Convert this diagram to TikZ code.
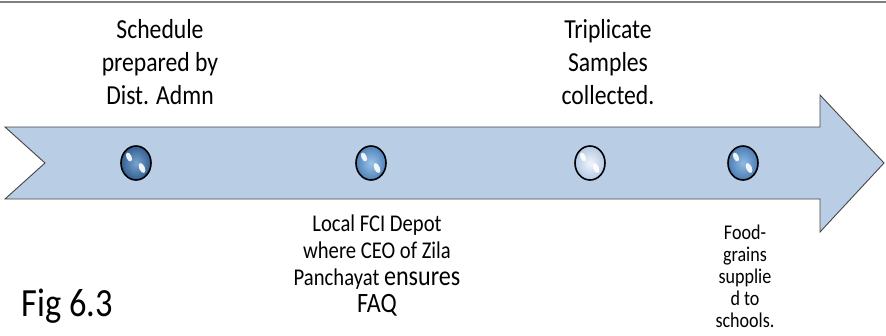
\documentclass[tikz,border=0pt]{standalone}
\usepackage{fontspec}
\setmainfont{Carlito}
% slightly narrowed face for all the labels
\newfontfamily\narrowfont[FakeStretch=0.86]{Carlito}
\usetikzlibrary{positioning,shapes.geometric}

\definecolor{bandfill}{RGB}{185,205,229}
\definecolor{bandline}{RGB}{70,70,70}

\begin{document}
\begin{tikzpicture}[x=1pt,y=-1pt,
    marker/.style={ellipse,draw=black,line width=1.6pt,minimum width=30pt,minimum height=34pt,inner sep=0pt},
    toplabel/.style={align=center,font=\narrowfont\fontsize{27.5}{33}\selectfont},
    lowlabel/.style={align=center,font=\narrowfont\fontsize{24}{27}\selectfont},
    glint/.style={fill=white,opacity=.9}]
        \useasboundingbox (0,0) rectangle (886,335);
        \draw[gray,line width=2pt] (0,2) -- (886,2);

        % the band with its arrow head
        \draw[fill=bandfill,draw=bandline,line width=.9pt]
            (5,127) -- (820,127) -- (820,95) -- (884,163) -- (820,232)
            -- (820,199) -- (5,199) -- (45,163) -- cycle;

        % glass markers along the band
        \foreach \x/\inner/\outer/\n in {136/{rgb,255:red,120;green,165;blue,205}/{rgb,255:red,50;green,95;blue,145}/m1,
                                        371/{rgb,255:red,155;green,195;blue,232}/{rgb,255:red,80;green,130;blue,185}/m2,
                                        590/{rgb,255:red,240;green,245;blue,252}/{rgb,255:red,180;green,200;blue,228}/m3,
                                        743/{rgb,255:red,145;green,185;blue,228}/{rgb,255:red,75;green,125;blue,180}/m4}{
            \node[marker,inner color=\inner,outer color=\outer] (\n) at (\x,163) {};
            \fill[glint] (\x-7,157) ellipse [x radius=2.6pt,y radius=4.8pt,rotate=25];
            \fill[glint] (\x+6,168) ellipse [x radius=2.8pt,y radius=5.4pt,rotate=25];
        }

        \node[toplabel] (sched) at (160,62) {Schedule\\prepared by\\Dist. Admn};
        \node[toplabel] (tripl) at (608,62) {Triplicate\\Samples\\collected.};

        \node[lowlabel,anchor=north] (depot) at (377,211)
            {Local FCI Depot\\where CEO of Zila\\Panchayat {\fontsize{28}{30}\selectfont ensures}\\{\fontsize{28}{30}\selectfont FAQ}};
        \node[align=center,font=\narrowfont\fontsize{21}{22}\selectfont,anchor=north,inner sep=1pt] (grains) at (745,224)
            {Food-\\grains\\supplie\\d to\\schools.};

        \node[anchor=west,font=\narrowfont\fontsize{40}{44}\selectfont] (fig) at (18,306) {Fig 6.3};
    \end{tikzpicture}
\end{document}
